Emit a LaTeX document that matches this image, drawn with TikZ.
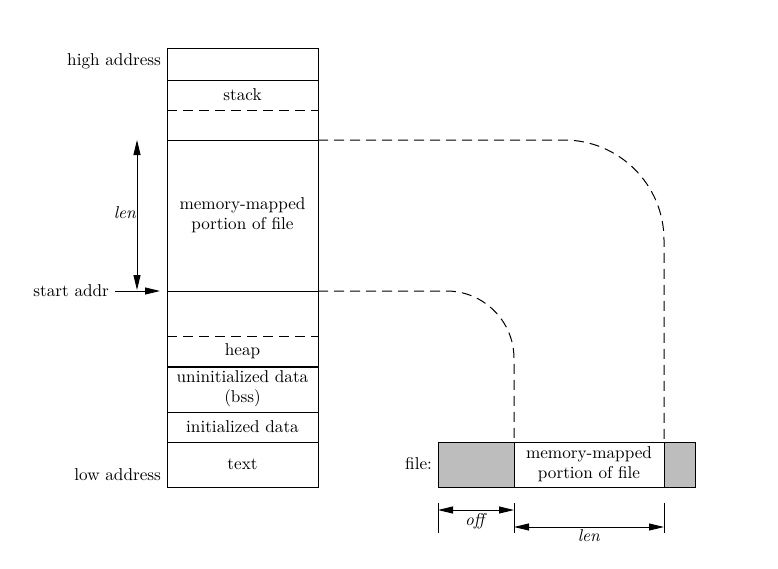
\documentclass[tikz,border=0pt]{standalone}
\usepackage{xcolor}
\usetikzlibrary{arrows.meta,positioning,calc}

\definecolor{filegray}{gray}{0.74}
\tikzset{
  sep/.style={dash pattern=on 6pt off 3.6pt},
  tip/.style={-{Triangle[length=9pt,width=4.2pt]}},
  dim/.style={{Triangle[length=9pt,width=4.2pt]}-{Triangle[length=9pt,width=4.2pt]}},
  lbl/.style={align=center},
}

\begin{document}
\begin{tikzpicture}[x=0.6pt,y=-0.6pt,line width=0.6pt,
    every node/.style={font=\fontsize{10.3}{12.2}\selectfont}]
    \useasboundingbox (0,0) rectangle (778,568);

    % address space of the process
    \draw (167,48) coordinate (hiL) rectangle (318,487) coordinate (loR);
    \draw (167,80) -- (318,80);
    \draw[sep] (167,110) -- (318,110);
    \draw (167,140) coordinate (mapL) -- (318,140) coordinate (mapR);
    \draw (167,291) coordinate (startL) -- (318,291) coordinate (startR);
    \draw[sep] (167,336) -- (318,336);
    \draw[line width=1.5pt] (167,367) -- (318,367);
    \draw (167,412) -- (318,412);
    \draw (167,442) -- (318,442);

    \node (stack) at (242.5,95) {stack};
    \node[lbl] (mapped) at (242.5,215) {memory-mapped\\portion of file};
    \node (heap) at (242.5,351) {heap};
    \node[lbl] (bss) at (242.5,389) {uninitialized data\\(bss)};
    \node (data) at (242.5,427) {initialized data};
    \node (text) at (242.5,464) {text};

    \node[anchor=east] (high) at (167,61) {high address};
    \node[anchor=east] (low) at (167,475) {low address};
    \node[anchor=east] (start) at (115,291) {start addr};
    \draw[tip, shorten >=4.2pt] (start.east) -- (startL);

    \coordinate (lenT) at (137,140);
    \coordinate (lenB) at (137,290);
    \draw[dim] (lenT) -- (lenB);
    \node (lenA) at (125,213) {\textit{len}};

    % the file on disk
    \coordinate (offL) at (438,442);
    \coordinate (offR) at (514,442);
    \coordinate (endL) at (664,442);
    \draw[fill=filegray] (offL) rectangle (514,487);
    \draw (offR) rectangle (664,487);
    \draw[fill=filegray] (endL) rectangle (695,487);
    \node[lbl] (fmapped) at (589,464.5) {memory-mapped\\portion of file};
    \node[anchor=east] (file) at (438,464) {file:};

    \draw[sep, rounded corners=60pt] (mapR) -| (endL);
    \draw[sep, rounded corners=40.5pt] (startR) -| (offR);

    % off and len below the file
    \foreach \x/\n in {438/a,514/b,664/c} {
        \draw (\x,503) coordinate (top\n) -- (\x,533) coordinate (bot\n);
    }
    \draw[dim] (438,510) coordinate (offA) -- (514,510) coordinate (offB);
    \draw[dim] (514,527) coordinate (lenC) -- (664,527) coordinate (lenD);
    \node (offT) at (476,521) {\textit{off}};
    \node (lenF) at (589,536) {\textit{len}};
\end{tikzpicture}
\end{document}
